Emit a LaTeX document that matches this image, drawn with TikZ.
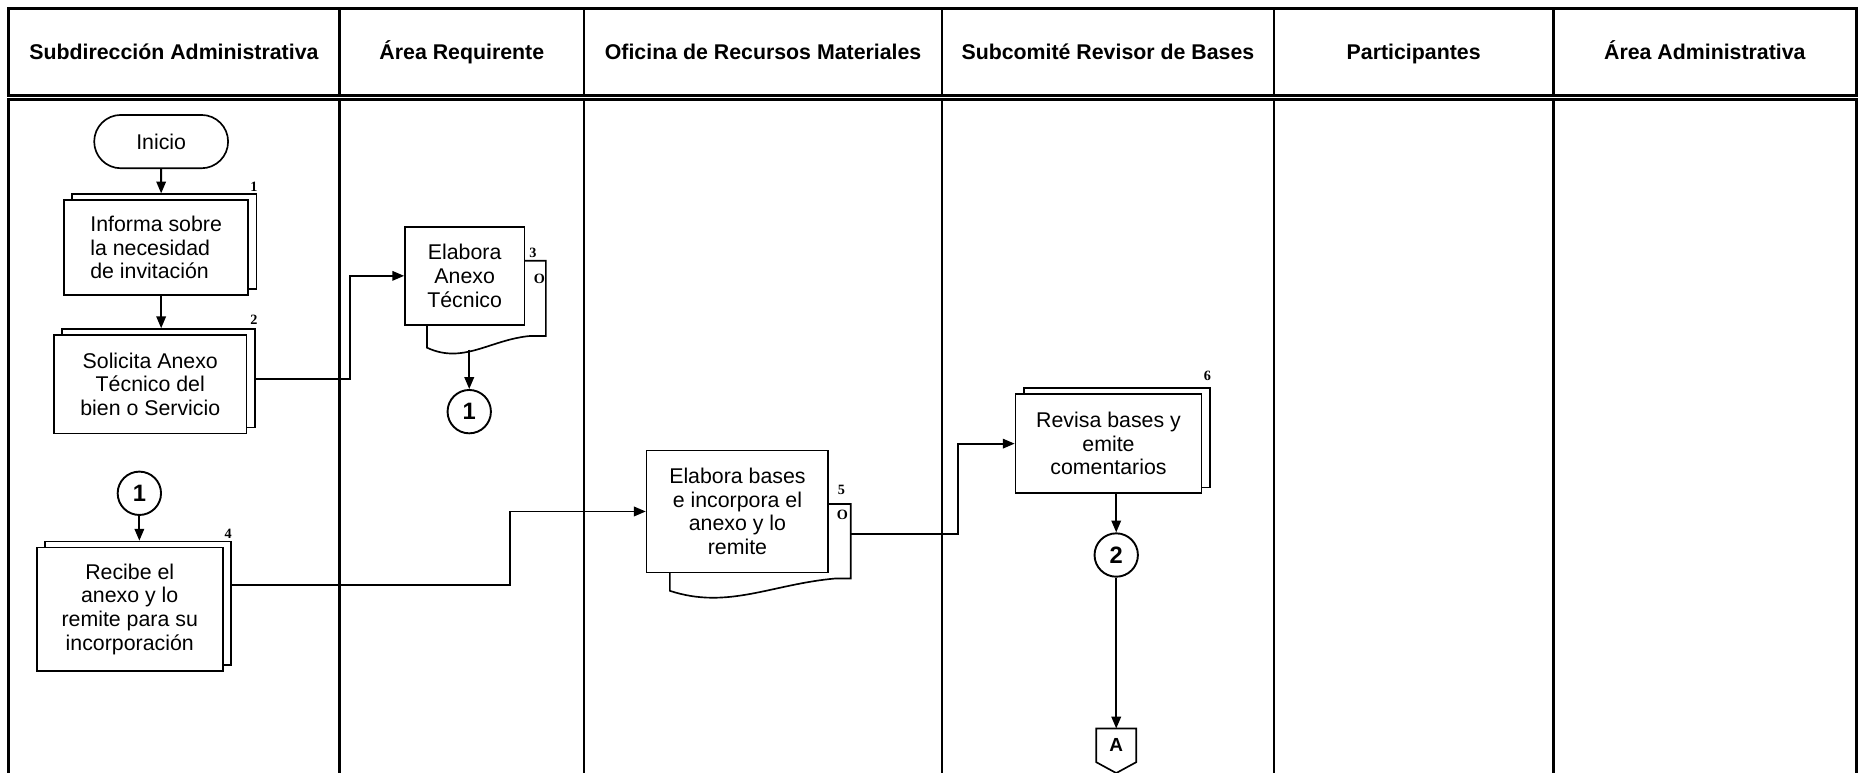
\documentclass[tikz,border=0pt]{standalone}
\usepackage{fontspec}
\setmainfont{Liberation Sans}
\newfontfamily\numfont{Liberation Serif}
\usepackage{tikz}
\usetikzlibrary{shapes.misc, shadows, arrows.meta}

\tikzset{
	lane/.style = {line width=1.1pt},
	box/.style = {line width=0.7pt},
	head/.style = {anchor=base, font=\fontsize{9}{10}\selectfont\bfseries},
	proc/.style = {box, draw, fill=white, align=center, inner sep=1pt, font=\fontsize{9}{10}\selectfont},
	stack/.style = {proc, copy shadow={shadow xshift=3.5pt, shadow yshift=2.5pt}},
	conn/.style = {draw, circle, line width=0.8pt, minimum size=18.3pt, inner sep=0pt, font=\fontsize{10}{10}\selectfont\bfseries},
	num/.style = {inner sep=0pt, font=\numfont\fontsize{6}{6}\selectfont\bfseries},
	flow/.style = {line width=0.8pt},
}

\begin{document}
\begin{tikzpicture}[x=0.5pt, y=-0.5pt]
		\def\L{7};
		\def\R{1566.5};
		\def\hd{80.7};
		\def\bd{84};
		
		\useasboundingbox (0,0) rectangle (1568,652);
		
		\draw[lane] (\L,\L) rectangle (\R,\hd);
		\draw[lane] (\L,660) |- (\R,\bd) -- (\R,660);
		\foreach \x in {286.5, 493, 795, 1075, 1311}
			\draw[lane] (\x,\L) -- (\x,\hd) (\x,\bd) -- (\x,660);
		
		\foreach \x/\t [count=\i] in {146.75/Subdirección Administrativa, 389.75/Área Requirente,
				644/Oficina de Recursos Materiales, 935/Subcomité Revisor de Bases,
				1193/Participantes, 1438.75/Área Administrativa}
			\node[head] (lane\i) at (\x,50) {\t};
		
		\node[proc, rounded rectangle, minimum width=58.5pt, minimum height=22.5pt] (inicio) at (136,119.5) {Inicio};
		\node[stack, align=left, minimum width=77.75pt, minimum height=40pt] (informa) at (131.75,208.9) {Informa sobre\\la necesidad\\de invitación};
		\node[stack, minimum width=81.2pt, minimum height=41.5pt] (solicita) at (126.8,324.2) {Solicita Anexo\\Técnico del\\bien o Servicio};
		\node[proc, minimum width=50.35pt, minimum height=41.5pt] (anexo) at (392.15,232.8) {Elabora\\Anexo\\Técnico};
		\node[conn] (unoA) at (396,347.4) {1};
		\node[conn] (unoB) at (117.6,416.3) {1};
		\node[stack, minimum width=78.5pt, minimum height=52pt] (recibe) at (109.5,514) {Recibe el\\anexo y lo\\remite para su\\incorporación};
		\node[proc, minimum width=76.65pt, minimum height=51.35pt] (bases) at (622.35,431.65) {Elabora bases\\e incorpora el\\anexo y lo\\remite};
		\node[stack, minimum width=78.5pt, minimum height=41.9pt] (revisa) at (935.5,374.4) {Revisa bases y\\emite\\comentarios};
		\node[conn] (dos) at (942,468.4) {2};
		\node[minimum width=16.5pt, minimum height=13.8pt, inner sep=0pt, font=\fontsize{8}{8}\selectfont\bfseries] (pagA) at (942,629) {A};
		
		\draw[box] ([yshift=-14.75pt]anexo.north east) -| ([xshift=8.75pt,yshift=-4.25pt]anexo.south east)
			-- ([xshift=2.25pt,yshift=-4.25pt]anexo.south east)
			.. controls ([xshift=-14.75pt,yshift=-5.75pt]anexo.south east) and ([xshift=25pt,yshift=-16.4pt]anexo.south west)
			.. ([xshift=9.6pt,yshift=-9.2pt]anexo.south west) -- ([xshift=9.6pt]anexo.south west);
		\draw[box] ([yshift=-22.85pt]bases.north east) -| ([xshift=9.15pt,yshift=-2.25pt]bases.south east)
			-- ([xshift=2.65pt,yshift=-2.25pt]bases.south east)
			.. controls ([xshift=-24.25pt,yshift=-4.6pt]bases.south east) and ([xshift=34.65pt,yshift=-15.5pt]bases.south west)
			.. ([xshift=10.15pt,yshift=-7.45pt]bases.south west) -- ([xshift=10.15pt]bases.south west);
		\draw[box] (pagA.north west) -- (pagA.north east) -- (pagA.south east) -- ([yshift=-4.6pt]pagA.south)
			-- (pagA.south west) -- cycle;
		
		\node[num] (n1) at ([xshift=2.05pt,yshift=5.4pt]informa.north east) {1};
		\node[num] (n2) at ([xshift=2.8pt,yshift=6.05pt]solicita.north east) {2};
		\node[num] (n3) at ([xshift=3.25pt,yshift=-11.25pt]anexo.north east) {3};
		\node[num] (o3) at ([xshift=6pt,yshift=-22.35pt]anexo.north east) {O};
		\node[num] (n4) at ([xshift=1.9pt,yshift=5.5pt]recibe.north east) {4};
		\node[num] (n5) at ([xshift=5.2pt,yshift=-17pt]bases.north east) {5};
		\node[num] (o5) at ([xshift=5.65pt,yshift=-27.55pt]bases.north east) {O};
		\node[num] (n6) at ([xshift=2.15pt,yshift=7.3pt]revisa.north east) {6};
		
		\begin{scope}[-{Triangle[length=5pt, width=4pt]}, flow]
			\draw (inicio) -- ([yshift=2.5pt]informa.north -| inicio);
			\draw (informa.south -| inicio) -- ([yshift=2.5pt]solicita.north -| inicio);
			\draw ([xshift=3.5pt,yshift=2pt]solicita.east) -- ++(80,0) |- (anexo.west);
			\draw ([yshift=-10pt]unoA |- anexo.south) -- (unoA);
			\draw (unoB) -- ([yshift=2.5pt]recibe.north -| unoB);
			\draw ([xshift=3.5pt,yshift=10pt]recibe.east) -- ++(235,0) |- (bases.west);
			\draw ([xshift=9.15pt,yshift=-9.5pt]bases.east) -- ++(90.7,0) |- (revisa.west);
			\draw (dos |- revisa.south) -- (dos);
			\draw (dos) -- (pagA);
		\end{scope}
	\end{tikzpicture}
\end{document}
